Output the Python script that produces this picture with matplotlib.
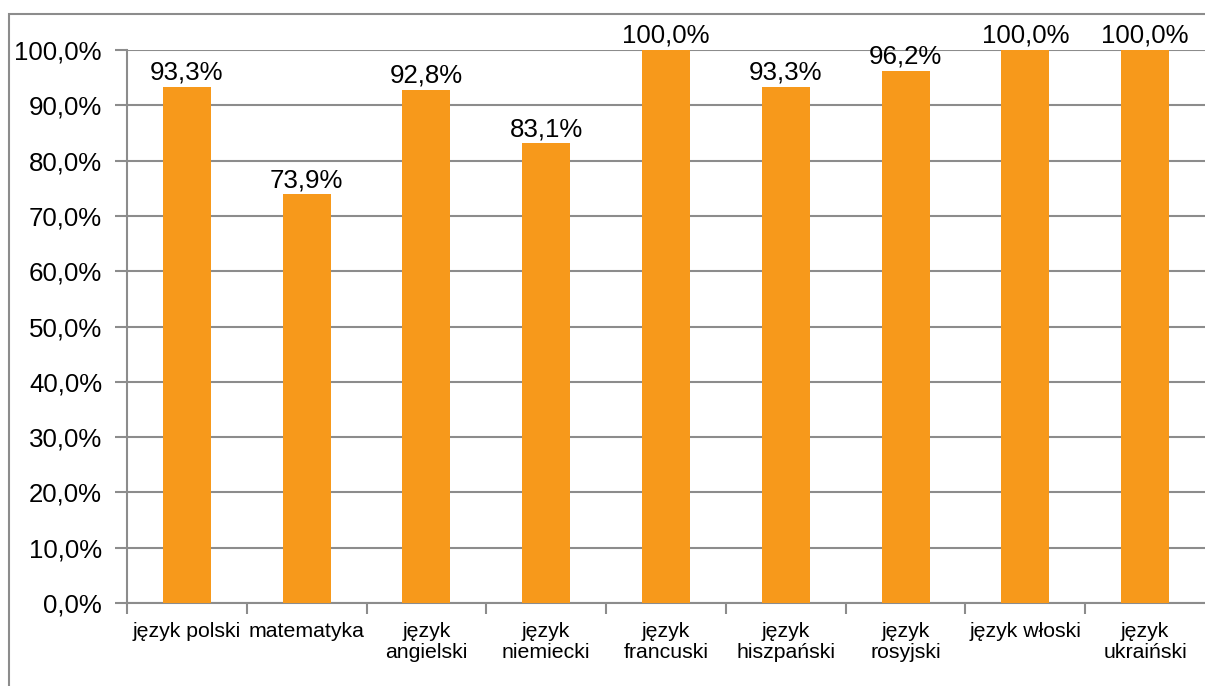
import matplotlib
matplotlib.use('Agg')
from matplotlib import pyplot as plt
from matplotlib.patches import Rectangle
from matplotlib.ticker import FuncFormatter, FixedLocator

plt.rcParams['font.family'] = ['Liberation Sans', 'DejaVu Sans']

categories = [u"język polski", u"matematyka", u"język\nangielski", u"język\nniemiecki",
              u"język\nfrancuski", u"język\nhiszpański", u"język\nrosyjski",
              u"język włoski", u"język\nukraiński"]
values = [93.3, 73.9, 92.8, 83.1, 100.0, 93.3, 96.2, 100.0, 100.0]
yticks = [0, 10, 20, 30, 40, 50, 60, 70, 80, 90, 100]

BAR = '#F7991B'
GRID = '#8C8C8C'

fig = plt.figure(figsize=(12.05, 6.86), dpi=100)
ax = fig.add_axes([127 / 1205, 1 - 603 / 686, 1 - 127 / 1205, (603 - 50) / 686])

x = list(range(len(categories)))
ax.bar(x, values, width=0.4, color=BAR, zorder=3)

for xi, v in zip(x, values):
    ax.text(xi, v + 0.4, ('%.1f%%' % v).replace('.', ','), ha='center', va='bottom',
            fontsize=18.6, color='black', zorder=4)

ax.set_xlim(-0.5, len(categories) - 0.5)
ax.set_ylim(0, 100)
ax.set_yticks(yticks)
ax.yaxis.set_major_formatter(FuncFormatter(lambda v, p: ('%.1f%%' % v).replace('.', ',')))
ax.tick_params(axis='y', labelsize=18.6, length=9, width=1.5, color=GRID, pad=9, labelcolor='black')
ax.grid(axis='y', color=GRID, linewidth=1.5, zorder=0)

ax.set_xticks(x)
ax.set_xticklabels(categories, fontsize=15.3, linespacing=1.08)
ax.xaxis.set_minor_locator(FixedLocator([i - 0.5 for i in range(len(categories))]))
ax.tick_params(axis='x', which='major', length=0, pad=14)
ax.tick_params(axis='x', which='minor', length=8, width=1.5, color=GRID)

for s in ['top', 'right']:
    ax.spines[s].set_visible(False)
for s in ['left', 'bottom']:
    ax.spines[s].set_color(GRID)
    ax.spines[s].set_linewidth(1.5)

fig.patches.append(Rectangle((9 / 1205, -0.05), 1.1, 1 - 14 / 686 + 0.05,
                             transform=fig.transFigure, fill=False,
                             edgecolor=GRID, linewidth=1.5, clip_on=False))

fig.savefig('out.png', dpi=100)
